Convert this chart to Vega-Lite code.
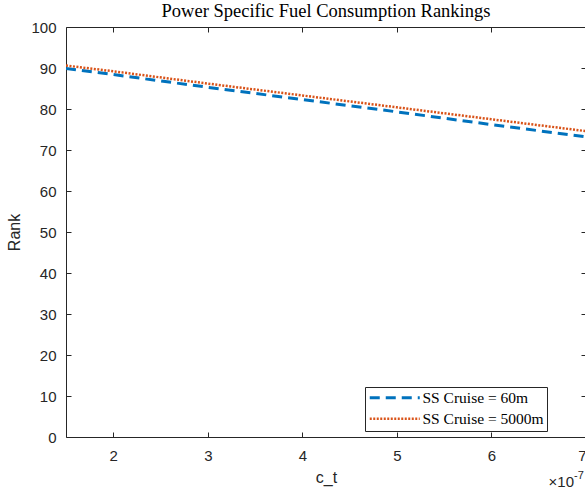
{
  "$schema": "https://vega.github.io/schema/vega-lite/v6.json",
  "autosize": {"type": "none"},
  "padding": {"left": 66, "top": 27, "right": 0, "bottom": 53},
  "width": 520,
  "height": 410,
  "background": "white",
  "title": {
    "text": "Power Specific Fuel Consumption Rankings",
    "font": "Liberation Serif",
    "fontSize": 18.5,
    "fontWeight": "normal",
    "color": "#000000",
    "anchor": "middle",
    "offset": 0
  },
  "config": {
    "view": {"stroke": null},
    "axis": {
      "domainColor": "#262626",
      "domainWidth": 1,
      "tickColor": "#262626",
      "tickWidth": 1,
      "tickSize": -5,
      "grid": false,
      "labelFont": "Liberation Sans",
      "labelFontSize": 15,
      "labelColor": "#262626",
      "titleFont": "Liberation Sans",
      "titleFontSize": 16,
      "titleFontWeight": "normal",
      "titleColor": "#262626"
    }
  },
  "datasets": {
    "ranks": [
      {"c_t": 1.5, "rank": 89.9, "series": "SS Cruise = 60m"},
      {"c_t": 2.0, "rank": 88.4, "series": "SS Cruise = 60m"},
      {"c_t": 3.0, "rank": 85.3, "series": "SS Cruise = 60m"},
      {"c_t": 4.0, "rank": 82.3, "series": "SS Cruise = 60m"},
      {"c_t": 5.0, "rank": 79.3, "series": "SS Cruise = 60m"},
      {"c_t": 6.0, "rank": 76.2, "series": "SS Cruise = 60m"},
      {"c_t": 7.0, "rank": 73.2, "series": "SS Cruise = 60m"},
      {"c_t": 1.5, "rank": 90.6, "series": "SS Cruise = 5000m"},
      {"c_t": 2.0, "rank": 89.2, "series": "SS Cruise = 5000m"},
      {"c_t": 3.0, "rank": 86.2, "series": "SS Cruise = 5000m"},
      {"c_t": 4.0, "rank": 83.3, "series": "SS Cruise = 5000m"},
      {"c_t": 5.0, "rank": 80.4, "series": "SS Cruise = 5000m"},
      {"c_t": 6.0, "rank": 77.5, "series": "SS Cruise = 5000m"},
      {"c_t": 7.0, "rank": 74.6, "series": "SS Cruise = 5000m"}
    ],
    "exponent": [
      {"c_t": 7, "rank": 0, "base": "×10", "power": "-7"}
    ]
  },
  "resolve": {"axis": {"x": "independent", "y": "independent"}},
  "layer": [
    {
      "data": {"name": "ranks"},
      "mark": {"type": "line", "clip": true},
      "encoding": {
        "x": {
          "field": "c_t",
          "type": "quantitative",
          "scale": {"domain": [1.5, 7], "nice": false, "zero": false},
          "axis": {
            "orient": "bottom",
            "values": [2, 3, 4, 5, 6, 7],
            "title": "c_t",
            "labelPadding": 16,
            "titlePadding": 6
          }
        },
        "y": {
          "field": "rank",
          "type": "quantitative",
          "scale": {"domain": [0, 100], "nice": false},
          "axis": {
            "orient": "left",
            "values": [0, 10, 20, 30, 40, 50, 60, 70, 80, 90, 100],
            "title": "Rank",
            "labelPadding": 15,
            "titlePadding": 8
          }
        },
        "color": {
          "field": "series",
          "type": "nominal",
          "sort": ["SS Cruise = 60m", "SS Cruise = 5000m"],
          "scale": {"domain": ["SS Cruise = 60m", "SS Cruise = 5000m"], "range": ["#0072BD", "#D95319"]},
          "legend": {
            "title": null,
            "orient": "none",
            "legendX": 299,
            "legendY": 360,
            "symbolType": "M-1,0H7.333",
            "symbolSize": 144,
            "symbolStrokeWidth": 2.5,
            "labelFont": "Liberation Serif",
            "labelFontSize": 15.5,
            "labelColor": "#000000",
            "labelOffset": 39,
            "rowPadding": 4,
            "padding": 3,
            "fillColor": "white",
            "strokeColor": "#262626"
          }
        },
        "strokeDash": {
          "field": "series",
          "type": "nominal",
          "sort": ["SS Cruise = 60m", "SS Cruise = 5000m"],
          "scale": {"domain": ["SS Cruise = 60m", "SS Cruise = 5000m"], "range": [[10, 6], [2, 1.5]]}
        },
        "strokeWidth": {
          "field": "series",
          "type": "nominal",
          "scale": {"domain": ["SS Cruise = 60m", "SS Cruise = 5000m"], "range": [3, 2.5]},
          "legend": null
        }
      }
    },
    {
      "data": {"name": "exponent"},
      "mark": {"type": "text", "font": "Liberation Sans", "fontSize": 15, "color": "#262626", "align": "right", "baseline": "alphabetic", "dx": -12, "dy": 50},
      "encoding": {
        "x": {
          "field": "c_t",
          "type": "quantitative",
          "axis": {"orient": "top", "values": [2, 3, 4, 5, 6, 7], "labels": false, "title": null}
        },
        "y": {
          "field": "rank",
          "type": "quantitative",
          "axis": {"orient": "right", "values": [0, 10, 20, 30, 40, 50, 60, 70, 80, 90, 100], "labels": false, "title": null}
        },
        "text": {"field": "base"}
      }
    },
    {
      "data": {"name": "exponent"},
      "mark": {"type": "text", "font": "Liberation Sans", "fontSize": 11, "color": "#262626", "align": "left", "baseline": "alphabetic", "dx": -12, "dy": 42},
      "encoding": {
        "x": {"field": "c_t", "type": "quantitative", "axis": null},
        "y": {"field": "rank", "type": "quantitative", "axis": null},
        "text": {"field": "power"}
      }
    }
  ]
}
